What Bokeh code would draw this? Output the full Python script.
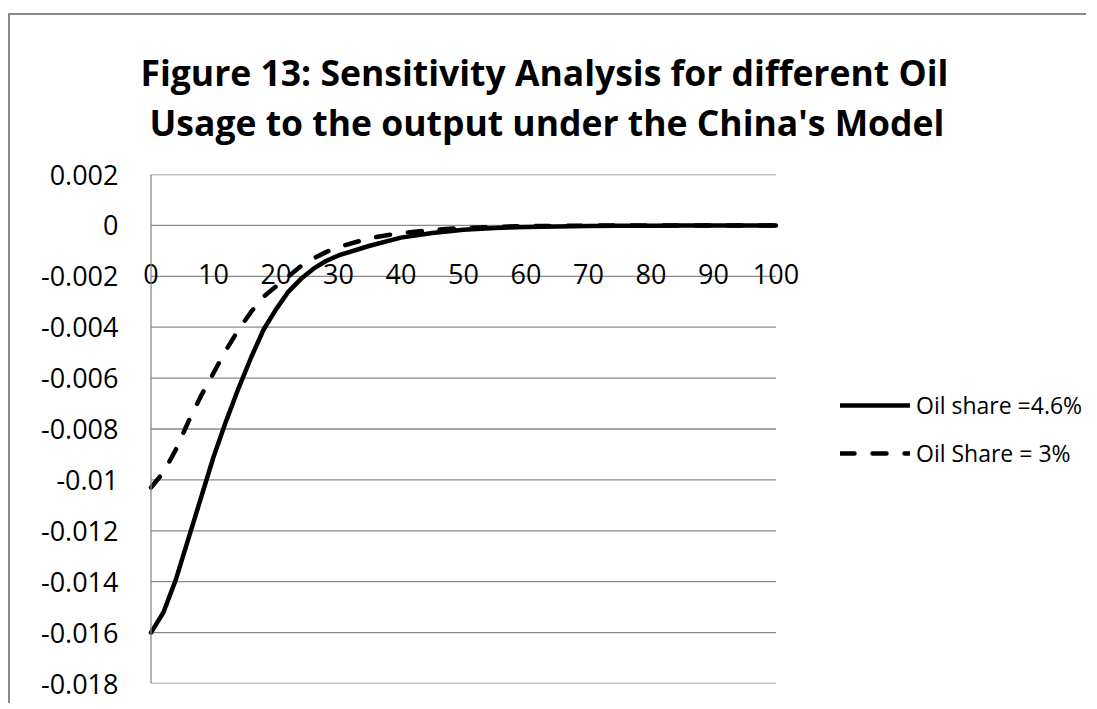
from bokeh.plotting import figure
from bokeh.models import Range1d, FixedTicker, Legend, LegendItem, Title, Span
from bokeh.embed import file_html
from bokeh.resources import INLINE

title_lines = ["Figure 13: Sensitivity Analysis for different Oil",
               "Usage to the output under the China's Model"]
series_names = ["Oil share =4.6%", "Oil Share = 3%"]

periods = [0, 2, 4, 6, 8, 10, 12, 14, 16, 18, 20, 22, 24, 26, 28, 30,
           35, 40, 45, 50, 55, 60, 65, 70, 75, 80, 85, 90, 95, 100]
oil_share_46 = [-0.0160, -0.0152, -0.0139, -0.0123, -0.0107, -0.0091, -0.0077, -0.0064,
                -0.0052, -0.0041, -0.0033, -0.0026, -0.0021, -0.0017, -0.0014, -0.00118,
                -0.0008, -0.00048, -0.0003, -0.00017, -0.0001, -0.00006, -0.00004,
                -0.00002, -0.000015, -0.00001, -0.000005, 0.0, 0.0, 0.0]
oil_share_3 = [-0.0103, -0.0097, -0.0088, -0.0077, -0.0067, -0.0058, -0.0049, -0.0041,
               -0.0034, -0.0028, -0.0024, -0.0020, -0.0016, -0.0013, -0.00105, -0.00085,
               -0.0005, -0.0003, -0.00018, -0.0001, -0.00006, -0.00003, -0.00002,
               -0.00001, -0.000005, 0.0, 0.0, 0.0, 0.0, 0.0]

x_ticks = [0, 10, 20, 30, 40, 50, 60, 70, 80, 90, 100]
x_tick_labels = ["0", "10", "20", "30", "40", "50", "60", "70", "80", "90", "100"]
y_ticks = [0.002, 0.0, -0.002, -0.004, -0.006, -0.008, -0.01, -0.012, -0.014, -0.016, -0.018]
y_tick_labels = ["0.002", "0", "-0.002", "-0.004", "-0.006", "-0.008", "-0.01",
                 "-0.012", "-0.014", "-0.016", "-0.018"]
x_axis_crossing = 0.0

FONT = "Open Sans"
GRID = "#8a8a8a"

# frame extends past the plotted x-range so that the legend and the
# first tick label are not clipped; gridlines are drawn only over 0..100
p = figure(width=1078, height=690, output_backend="svg", toolbar_location=None,
           x_range=Range1d(-2, 150), y_range=Range1d(-0.018, 0.002),
           min_border_left=128, min_border_right=0, min_border_top=159,
           min_border_bottom=22)
p.margin = (13, 0, 0, 8)
p.styles = {"border-top": "2px solid #8a8a8a", "border-left": "2px solid #8a8a8a"}
p.outline_line_color = None
p.background_fill_color = "white"
p.border_fill_color = "white"
p.xgrid.visible = False
p.ygrid.visible = False

# horizontal gridlines over the plotted range
p.segment(x0=[x_ticks[0]] * len(y_ticks), x1=[x_ticks[-1]] * len(y_ticks),
          y0=y_ticks, y1=y_ticks, line_color=GRID, line_width=1.3)
# vertical axis line at x = 0
p.add_layout(Span(location=x_ticks[0], dimension="height", line_color=GRID,
                  line_width=1.3))

# horizontal axis crosses at y = 0, labels below it
p.xaxis.fixed_location = x_axis_crossing
p.xaxis.ticker = FixedTicker(ticks=x_ticks)
p.xaxis.major_label_overrides = {t: l for t, l in zip(x_ticks, x_tick_labels)}
p.xaxis.major_tick_line_color = None
p.xaxis.minor_tick_line_color = None
p.xaxis.axis_line_color = None
p.xaxis.major_label_text_font = FONT
p.xaxis.major_label_text_font_size = "27px"
p.xaxis.major_label_text_color = "black"
p.xaxis.major_label_standoff = 33

p.yaxis.ticker = FixedTicker(ticks=y_ticks)
p.yaxis.major_label_overrides = {t: l for t, l in zip(y_ticks, y_tick_labels)}
p.yaxis.major_tick_line_color = None
p.yaxis.minor_tick_line_color = None
p.yaxis.major_tick_out = 0
p.yaxis.major_tick_in = 0
p.yaxis.axis_line_color = None
p.yaxis.major_label_text_font = FONT
p.yaxis.major_label_text_font_size = "27px"
p.yaxis.major_label_text_color = "black"
p.yaxis.major_label_standoff = 20

r1 = p.line(periods, oil_share_46, line_color="black", line_width=4.5,
            line_cap="round", line_join="round")
r2 = p.line(periods, oil_share_3, line_color="black", line_width=4.5,
            line_dash="14 18", line_cap="round", line_join="round")

legend = Legend(items=[LegendItem(label=series_names[0], renderers=[r1]),
                       LegendItem(label=series_names[1], renderers=[r2])],
                location=(702, 214), glyph_width=70, glyph_height=20,
                label_height=20, label_standoff=6, spacing=16, padding=0,
                margin=0, border_line_color=None, background_fill_alpha=0,
                label_text_font=FONT, label_text_font_size="23px",
                label_text_color="black")
p.add_layout(legend)

# blank spacer between the plot area and the two title lines
p.add_layout(Title(text=" ", standoff=0, text_font=FONT, text_font_size="19.5px"),
             "above")
p.add_layout(Title(text=title_lines[1], align="left", offset=11, standoff=0,
                   text_font=FONT, text_font_style="bold", text_font_size="35.5px",
                   text_color="black"), "above")
p.add_layout(Title(text=title_lines[0], align="left", offset=2, standoff=0,
                   text_font=FONT, text_font_style="bold", text_font_size="35.5px",
                   text_color="black"), "above")

open("out.html", "w").write(file_html(p, INLINE))
